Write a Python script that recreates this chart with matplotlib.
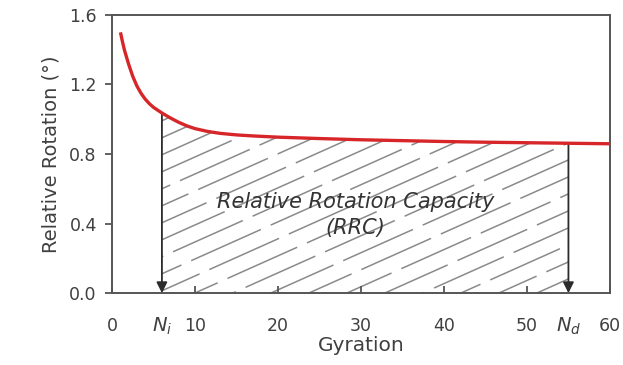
# import packages
import numpy as np
import matplotlib.pyplot as plt
from matplotlib.transforms import blended_transform_factory

# data
gyration = [1, 1.25, 1.5, 2, 2.5, 3, 3.5, 4, 4.5, 5, 6, 7, 8, 9, 10, 11.5, 13, 15, 17,
            20, 25, 30, 35, 40, 45, 50, 55, 60]
rotation = [1.50, 1.445, 1.395, 1.315, 1.245, 1.19, 1.148, 1.115, 1.089, 1.068, 1.036,
            1.008, 0.983, 0.962, 0.946, 0.930, 0.919, 0.910, 0.904, 0.897, 0.889, 0.882,
            0.877, 0.872, 0.868, 0.865, 0.862, 0.859]
n_i = 6
n_d = 55
x_ticks = [0, 10, 20, 30, 40, 50, 60]
y_ticks = [0.0, 0.4, 0.8, 1.2, 1.6]

# plot setting
fs = 12.5
txt_col = '#404040'
spine_col = '#555555'

fig = plt.figure(figsize=(6.23, 3.65), dpi=100)
ax = fig.add_axes([0.18, 0.197, 0.799, 0.762])

# hatched area under the curve between N_i and N_d
gx = np.array(gyration, dtype=float)
gy = np.array(rotation, dtype=float)
y_ni = np.interp(n_i, gx, gy)
y_nd = np.interp(n_d, gx, gy)
mask = (gx > n_i) & (gx < n_d)
area_x = np.concatenate([[n_i], gx[mask], [n_d]])
area_y = np.concatenate([[y_ni], gy[mask], [y_nd]])
poly = ax.fill_between(area_x, 0, area_y, facecolor='none', edgecolor='none')

slope = 0.02135   # hatch line slope in data units
step = 0.0978     # vertical spacing of hatch lines
hx = np.array([n_i, n_d])
for k in range(-22, 5):
    y0 = 0.698 + k * step
    ln, = ax.plot(hx, y0 + slope * (hx - n_i), color='#8a8a8a', lw=1.1,
                  linestyle=((k * 13) % 57, (50, 7)), zorder=1)
    ln.set_clip_path(poly.get_paths()[0], ax.transData)

# curve
ax.plot(gyration, rotation, color='#d7262a', lw=2.4, zorder=3,
        solid_capstyle='butt', solid_joinstyle='round')

# arrows at N_i and N_d
for xv, yv in [(n_i, y_ni), (n_d, y_nd)]:
    ax.annotate('', xy=(xv, 0), xytext=(xv, yv),
                arrowprops=dict(arrowstyle='-|>', color='#2b2b2b', lw=1.3,
                                mutation_scale=16, shrinkA=0, shrinkB=0),
                zorder=2)

ax.text(29.3, 0.45, 'Relative Rotation Capacity\n(RRC)', fontsize=15, style='italic',
        color='#333333', ha='center', va='center', linespacing=1.35)

# axes
ax.set_xlim(0, 60)
ax.set_ylim(0, 1.6)
ax.set_xticks(x_ticks)
ax.set_yticks(y_ticks)
ax.set_yticklabels(['%.1f' % v for v in y_ticks])
ax.tick_params(axis='x', direction='in', length=5, width=1.3, color=spine_col,
               labelsize=fs, labelcolor=txt_col, pad=17)
ax.tick_params(axis='y', direction='out', length=5, width=1.3, color=spine_col,
               labelsize=fs, labelcolor=txt_col, pad=6)
for s in ax.spines.values():
    s.set_color(spine_col)
    s.set_linewidth(1.4)

trans = blended_transform_factory(ax.transData, ax.transAxes)
ax.text(n_i, -0.12, '$N_i$', transform=trans, ha='center', va='center',
        fontsize=fs + 1.5, color=txt_col)
ax.text(n_d, -0.12, '$N_d$', transform=trans, ha='center', va='center',
        fontsize=fs + 1.5, color=txt_col)

ax.set_xlabel('Gyration', fontsize=14.5, color=txt_col, labelpad=1)
ax.set_ylabel('Relative Rotation (°)', fontsize=14, color=txt_col, labelpad=6)

plt.savefig('out.png', dpi=100)
